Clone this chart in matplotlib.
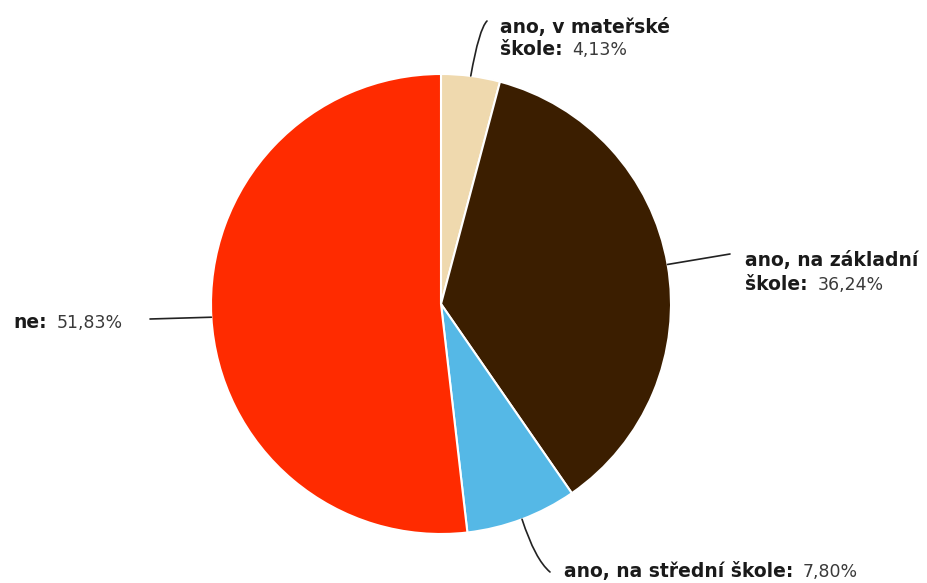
import matplotlib.pyplot as plt
import numpy as np

# podíly odpovědí (v %)
names = ['ano, v mateřské', 'ano, na základní', 'ano, na střední', 'ne']
values = [4.13, 36.24, 7.80, 51.83]
value_texts = ['4,13%', '36,24%', '7,80%', '51,83%']
colors = ['#EFD9AE', '#3B1E00', '#55B8E6', '#FF2B00']

# popisky po řádcích: poslední řádek nese hodnotu
label_lines = [['ano, v mateřské', 'škole:'],
               ['ano, na základní', 'škole:'],
               ['ano, na střední škole:'],
               ['ne:']]

W, H = 927, 583
fig = plt.figure(figsize=(W / 100, H / 100), dpi=100)
ax = fig.add_axes([0, 0, 1, 1])

cx, cy, r = 441, H - 304, 230
wedges, _ = ax.pie(values, colors=colors, startangle=90, counterclock=False,
                   center=(cx, cy), radius=r,
                   wedgeprops=dict(edgecolor='white', linewidth=1.5))
ax.set_xlim(0, W)
ax.set_ylim(0, H)
ax.set_aspect('equal')
ax.axis('off')

# levý okraj a účaří prvního řádku popisku, konec vodicí čáry, tvar čáry
label_pos = [(500, H - 33), (745, H - 266), (564, H - 577), (13, H - 328)]
line_end = [(487, H - 21), (730, H - 254), (550, H - 572), (150, H - 319)]
conn = ['angle3,angleA=80,angleB=45', 'arc3,rad=0',
        'angle3,angleA=-72,angleB=-40', 'arc3,rad=0']
line_gap = [22, 24, 0, 0]

for w, (tx, ty), end, cs, lines, gap, val in zip(
        wedges, label_pos, line_end, conn, label_lines, line_gap, value_texts):
    ang = np.deg2rad((w.theta1 + w.theta2) / 2)
    px, py = cx + r * np.cos(ang), cy + r * np.sin(ang)
    ax.annotate('', xy=end, xytext=(px, py),
                arrowprops=dict(arrowstyle='-', color='#222222', lw=1.2,
                                connectionstyle=cs, shrinkA=0, shrinkB=0))
    t = None
    for i, line in enumerate(lines):
        t = ax.text(tx, ty - i * gap, line, fontsize=13.5, fontweight='bold',
                    color='#1a1a1a', ha='left', va='baseline')
    ax.annotate(val, xy=(1, 0), xycoords=t, xytext=(7, 0),
                textcoords='offset points', fontsize=12.5, color='#3a3a3a',
                ha='left', va='bottom')

fig.savefig('out.png', dpi=100)
